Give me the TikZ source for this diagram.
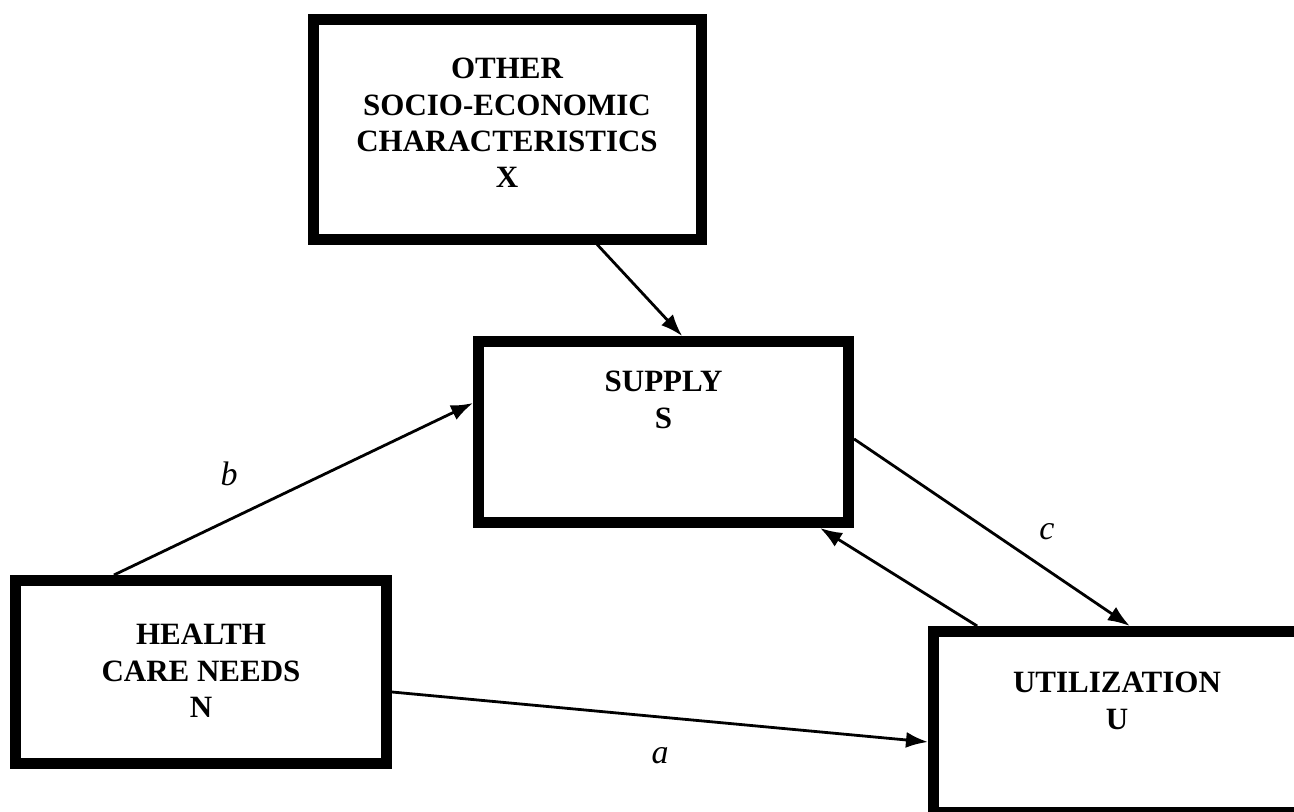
\documentclass[tikz,border=0pt]{standalone}
\usepackage{fontspec}
\setmainfont{Liberation Serif}
\usetikzlibrary{arrows.meta,calc}
\tikzset{
  box/.style={draw, rectangle, line width=5.5pt, inner sep=0pt},
  boxtext/.style={font=\fontsize{15.5pt}{18.2pt}\selectfont\bfseries, align=center, inner sep=0pt},
  lbl/.style={font=\fontsize{17pt}{20pt}\selectfont\itshape, inner sep=0pt},
  conn/.style={line width=1.4pt, -{Latex[length=11pt,width=8pt]}},
}
\begin{document}
\begin{tikzpicture}[x=0.5pt,y=-0.5pt]
\useasboundingbox (0,0) rectangle (1294,811);
\clip (0,0) rectangle (1294,811);
% boxes
\node[box, minimum width=194pt, minimum height=110pt] (X) at (507,129) {};
\node[box, minimum width=185pt, minimum height=90.5pt] (S) at (663.5,432) {};
\node[box, minimum width=185.5pt, minimum height=91.5pt] (N) at (201,672) {};
\node[box, minimum width=183.5pt, minimum height=90.5pt] (U) at (1117,722) {};
% texts
\node[boxtext] (Xt) at (507,123) {OTHER\\SOCIO-ECONOMIC\\CHARACTERISTICS\\X};
\node[boxtext] (St) at (663.5,400) {SUPPLY\\S};
\node[boxtext] (Nt) at (201,671) {HEALTH\\CARE NEEDS\\N};
\node[boxtext] (Ut) at (1117,701) {UTILIZATION\\U};
% connectors
\draw[conn] ($(X.south west)!0.726!(X.south east)$) -- ($(S.north west)!0.549!(S.north east)$);
\draw[conn] ($(N.north west)!0.272!(N.north east)$) -- ($(S.north west)!0.349!(S.south west)$);
\draw[conn] ($(N.north east)!0.603!(N.south east)$) -- ($(U.north west)!0.604!(U.south west)$);
\draw[conn] ($(S.north east)!0.536!(S.south east)$) -- ($(U.north west)!0.534!(U.north east)$);
\draw[conn] ($(U.north west)!0.13!(U.north east)$) -- ($(S.south west)!0.911!(S.south east)$);
% labels
\node[lbl] (lb) at (229,474) {b};
\node[lbl] (la) at (660,756) {a};
\node[lbl] (lc) at (1047,532) {c};
\end{tikzpicture}
\end{document}
